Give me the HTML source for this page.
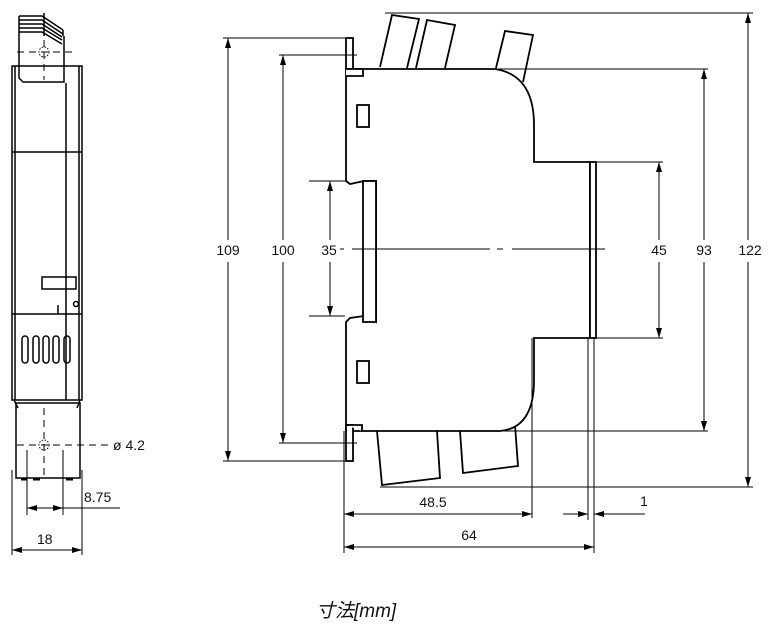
<!DOCTYPE html>
<html><head><meta charset="utf-8"><style>
html,body{margin:0;padding:0;background:#fff;width:774px;height:628px;overflow:hidden}
svg{display:block}
text{font-family:"Liberation Sans","Noto Sans CJK JP",sans-serif;font-size:14px;fill:#111}
</style></head><body>
<svg width="774" height="628" viewBox="0 0 774 628" xmlns="http://www.w3.org/2000/svg">
<defs>
<marker id="a" viewBox="0 0 10 6" refX="10" refY="3" markerWidth="10" markerHeight="6" orient="auto-start-reverse" markerUnits="userSpaceOnUse"><path d="M0,0L10,3L0,6z" fill="#000"/></marker>
</defs>
<g fill="none" stroke="#000" stroke-width="1">
<!-- LEFT VIEW -->
<g stroke-width="1.5">
<rect x="12" y="66" width="70" height="334"/>
<line x1="15" y1="66" x2="15" y2="400"/>
<line x1="79" y1="66" x2="79" y2="400"/>
<line x1="12" y1="152" x2="82" y2="152"/>
<line x1="12" y1="314" x2="82" y2="314"/>
<path d="M19,16 V78 L23,82 H64 V36"/>
<path d="M19,16 H42 L63,30 M19,20 H42 L63,34 M19,24 H42 L62,37 M19,28 H42 L62,40 M19,32 H42 L62,44"/>
<path d="M44,13 V36 M63,30 V36"/>
<line x1="66" y1="83" x2="66" y2="400"/>
<rect x="42" y="277" width="34" height="12"/>
<circle cx="76" cy="304" r="2.5"/>
<line x1="58" y1="305" x2="58" y2="314"/>
<rect x="22" y="336" width="6" height="27" rx="3"/>
<rect x="33" y="336" width="6" height="27" rx="3"/>
<rect x="43" y="336" width="6" height="27" rx="3"/>
<rect x="53" y="336" width="6" height="27" rx="3"/>
<rect x="64" y="336" width="6" height="27" rx="3"/>
<rect x="16" y="403" width="64" height="75"/>
<path d="M14,400 L18,408 M80,400 L77,408"/>
<path d="M21,479 H27 M33,479 H40 M66,479 H73" stroke-width="3"/>
</g>
<g stroke-width="1" stroke-dasharray="7,5">
<line x1="17" y1="52" x2="72" y2="52"/>
<line x1="44" y1="40" x2="44" y2="80"/>
<line x1="17" y1="445" x2="108" y2="445"/>
<line x1="44" y1="408" x2="44" y2="476"/>
</g>
<circle cx="44" cy="52" r="5" stroke-dasharray="1.5,1.5"/>
<circle cx="44" cy="445" r="5" stroke-dasharray="1.5,1.5"/>
<line x1="27" y1="450" x2="27" y2="515"/>
<line x1="63" y1="450" x2="63" y2="515"/>
<line x1="27" y1="508" x2="120" y2="508"/>
<line x1="27" y1="508" x2="63" y2="508" marker-start="url(#a)" marker-end="url(#a)"/>
<line x1="12" y1="470" x2="12" y2="555"/>
<line x1="82" y1="470" x2="82" y2="555"/>
<line x1="12" y1="550" x2="82" y2="550" marker-start="url(#a)" marker-end="url(#a)"/>

<!-- SIDE VIEW -->
<g stroke-width="1.8" fill="#fff">
<path d="M380,67 L392,15 L419,19 L407,68"/>
<path d="M416,68 L427,20 L455,25 L445,68"/>
<path d="M496,68 L505,31 L533,35 L523,82"/>
<path d="M377,431 L382,485 L440,478 L437,431"/>
<path d="M460,431 L463,473 L518,466 L515,425"/>
<path d="M346,69 H495 Q534,75 534,125 V162 H590 V338 H534 V380 Q534,428 500,431 H346 V322 L350,318 L364,316 L376,322 V181 L364,181 L350,184 L346,181 Z"/>
<rect x="346" y="38" width="7" height="31"/>
<rect x="346" y="425" width="7" height="36"/>
<path d="M346,69 H363 V76 H346"/>
<path d="M346,425 H362 V431"/>
<rect x="363" y="181" width="13" height="141"/>
<rect x="590" y="162" width="6" height="176"/>
<rect x="357" y="105" width="12" height="22"/>
<rect x="357" y="361" width="12" height="22"/>
</g>
<line x1="352" y1="249" x2="490" y2="249"/>
<line x1="497" y1="249" x2="503" y2="249"/>
<line x1="512" y1="249" x2="605" y2="249"/>

<line x1="385" y1="13" x2="753" y2="13"/>
<line x1="380" y1="487" x2="753" y2="487"/>
<line x1="748" y1="13" x2="748" y2="240" marker-start="url(#a)"/>
<line x1="748" y1="262" x2="748" y2="487" marker-end="url(#a)"/>
<line x1="495" y1="69" x2="708" y2="69"/>
<line x1="500" y1="431" x2="708" y2="431"/>
<line x1="704" y1="69" x2="704" y2="240" marker-start="url(#a)"/>
<line x1="704" y1="262" x2="704" y2="431" marker-end="url(#a)"/>
<line x1="596" y1="162" x2="663" y2="162"/>
<line x1="596" y1="338" x2="663" y2="338"/>
<line x1="659" y1="162" x2="659" y2="240" marker-start="url(#a)"/>
<line x1="659" y1="262" x2="659" y2="338" marker-end="url(#a)"/>

<line x1="223" y1="38" x2="345" y2="38"/>
<line x1="223" y1="461" x2="345" y2="461"/>
<line x1="228" y1="38" x2="228" y2="240" marker-start="url(#a)"/>
<line x1="228" y1="262" x2="228" y2="461" marker-end="url(#a)"/>
<line x1="279" y1="55" x2="357" y2="55"/>
<line x1="279" y1="443" x2="357" y2="443"/>
<line x1="283" y1="55" x2="283" y2="240" marker-start="url(#a)"/>
<line x1="283" y1="262" x2="283" y2="443" marker-end="url(#a)"/>
<line x1="309" y1="181" x2="345" y2="181"/>
<line x1="309" y1="316" x2="345" y2="316"/>
<line x1="330" y1="181" x2="330" y2="240" marker-start="url(#a)"/>
<line x1="330" y1="262" x2="330" y2="316" marker-end="url(#a)"/>
<line x1="340" y1="249" x2="344" y2="249"/>

<line x1="344" y1="431" x2="344" y2="553"/>
<line x1="532" y1="338" x2="532" y2="518"/>
<line x1="588" y1="338" x2="588" y2="520"/>
<line x1="594" y1="338" x2="594" y2="553"/>
<line x1="344" y1="514" x2="532" y2="514" marker-start="url(#a)" marker-end="url(#a)"/>
<line x1="344" y1="547" x2="594" y2="547" marker-start="url(#a)" marker-end="url(#a)"/>
<line x1="563" y1="514" x2="588" y2="514" marker-end="url(#a)"/>
<line x1="645" y1="514" x2="594" y2="514" marker-end="url(#a)"/>
</g>
<text x="113" y="450">ø 4.2</text>
<text x="84" y="502">8.75</text>
<text x="37" y="544">18</text>
<text x="228" y="255" text-anchor="middle">109</text>
<text x="283" y="255" text-anchor="middle">100</text>
<text x="329" y="255" text-anchor="middle">35</text>
<text x="659" y="255" text-anchor="middle">45</text>
<text x="704" y="255" text-anchor="middle">93</text>
<text x="750" y="255" text-anchor="middle">122</text>
<text x="433" y="507" text-anchor="middle">48.5</text>
<text x="469" y="540" text-anchor="middle">64</text>
<text x="644" y="506" text-anchor="middle">1</text>
<text x="316" y="617" style="font-size:19px;font-style:italic">寸法[mm]</text>
</svg>
</body></html>
